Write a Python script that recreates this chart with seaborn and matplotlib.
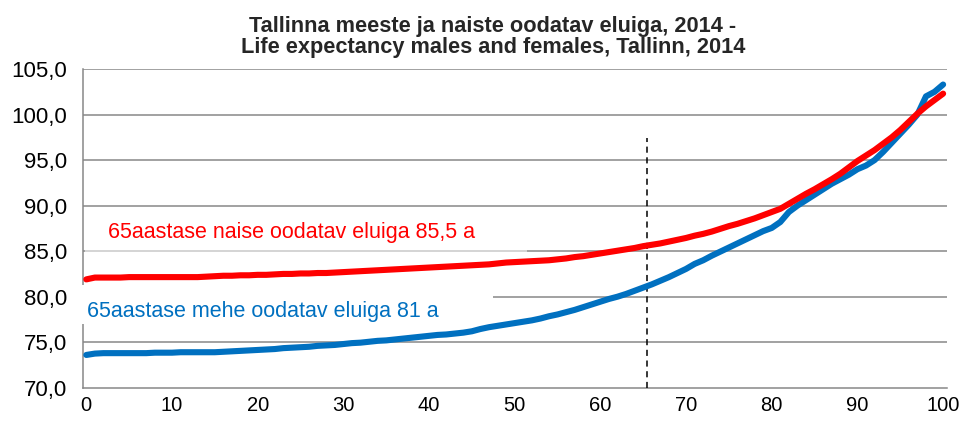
import matplotlib
matplotlib.use('Agg')
import matplotlib.pyplot as plt
from matplotlib.ticker import FixedLocator, FuncFormatter
from matplotlib.patches import Rectangle
import numpy as np
import pandas as pd
import seaborn as sns

# ages 0..100
ages = list(range(101))

# females (red)
females = [81.9, 82.1, 82.1, 82.1, 82.1, 82.15, 82.15, 82.15, 82.15, 82.15,
           82.15, 82.15, 82.15, 82.15, 82.2, 82.25, 82.3, 82.3, 82.35, 82.35,
           82.4, 82.4, 82.45, 82.5, 82.5, 82.55, 82.55, 82.6, 82.6, 82.65,
           82.7, 82.75, 82.8, 82.85, 82.9, 82.95, 83.0, 83.05, 83.1, 83.15,
           83.2, 83.25, 83.3, 83.35, 83.4, 83.45, 83.5, 83.55, 83.65, 83.75,
           83.8, 83.85, 83.9, 83.95, 84.0, 84.1, 84.2, 84.35, 84.45, 84.6,
           84.75, 84.9, 85.05, 85.2, 85.35, 85.55, 85.7, 85.85, 86.05, 86.25,
           86.45, 86.7, 86.9, 87.15, 87.45, 87.75, 88.0, 88.3, 88.6, 88.95,
           89.3, 89.65, 90.2, 90.75, 91.3, 91.8, 92.35, 92.9, 93.5, 94.2,
           94.9, 95.5, 96.1, 96.8, 97.5, 98.3, 99.2, 100.1, 100.9, 101.6,
           102.3]

# males (blue)
males = [73.6, 73.75, 73.8, 73.8, 73.8, 73.8, 73.8, 73.8, 73.85, 73.85,
         73.85, 73.9, 73.9, 73.9, 73.9, 73.9, 73.95, 74.0, 74.05, 74.1,
         74.15, 74.2, 74.25, 74.35, 74.4, 74.45, 74.5, 74.6, 74.65, 74.7,
         74.8, 74.9, 74.95, 75.05, 75.15, 75.2, 75.3, 75.4, 75.5, 75.6,
         75.7, 75.8, 75.85, 75.95, 76.05, 76.2, 76.45, 76.65, 76.8, 76.95,
         77.1, 77.25, 77.4, 77.6, 77.85, 78.05, 78.3, 78.55, 78.85, 79.15,
         79.45, 79.75, 80.0, 80.3, 80.65, 81.0, 81.35, 81.75, 82.15, 82.6,
         83.05, 83.6, 84.0, 84.5, 84.95, 85.4, 85.85, 86.3, 86.75, 87.2,
         87.55, 88.2, 89.3, 90.0, 90.6, 91.2, 91.8, 92.4, 92.9, 93.4,
         94.0, 94.4, 95.0, 95.9, 96.9, 97.9, 98.9, 100.0, 102.0, 102.5,
         103.3]

series_names = ['Mehed', 'Naised']
series_colors = ['#0070C0', '#FF0000']

title_lines = ['Tallinna meeste ja naiste oodatav eluiga, 2014 -',
               'Life expectancy males and females, Tallinn, 2014']
female_note = '65aastase naise oodatav eluiga 85,5 a'
male_note = '65aastase mehe oodatav eluiga 81 a'

age_mark = 65.4   # dashed marker (hand drawn in the original, sits a bit right of 65)
mark_top = 97.4

x_ticks = list(range(0, 101, 10))
y_ticks = [70, 75, 80, 85, 90, 95, 100, 105]


def main():
    sns.set_style('white')
    plt.rcParams['font.family'] = ['Liberation Sans', 'DejaVu Sans']

    df = pd.DataFrame({'age': ages * 2,
                       'value': males + females,
                       'sex': [series_names[0]] * len(ages) + [series_names[1]] * len(ages)})

    fig = plt.figure(figsize=(9.61, 4.21), dpi=100)
    ax = fig.add_axes([0.0864, 0.079, 0.899, 0.757])

    grid_c = '#878787'
    for v in y_ticks[1:]:
        ax.axhline(v, color=grid_c, lw=1.1, zorder=1)

    sns.lineplot(data=df, x='age', y='value', hue='sex', palette=series_colors,
                 hue_order=series_names, lw=4.4, legend=False, ax=ax, zorder=5)
    for ln in ax.get_lines():
        ln.set_solid_capstyle('round')

    ax.vlines(age_mark, 70, mark_top, colors='black', lw=1.1,
              linestyles=(0, (4, 3)), zorder=4)

    x_lo, x_hi = -0.38, 100.45
    ax.set_xlim(x_lo, x_hi)
    ax.set_ylim(70, 105)
    ax.set_xlabel('')
    ax.set_ylabel('')

    # text backdrops like the Excel text boxes
    ax.add_patch(Rectangle((-1.0, 77.0), 48.5, 4.3, facecolor='white', edgecolor='none',
                           zorder=3, clip_on=False))
    ax.add_patch(Rectangle((-0.2, 84.7), 51.6, 4.6, facecolor='white', edgecolor='none',
                           alpha=0.55, zorder=3))

    ax.text(2.5, 86.4, female_note, color=series_colors[1], fontsize=15.5,
            va='baseline', ha='left', zorder=6)
    ax.text(0.08, 77.8, male_note, color=series_colors[0], fontsize=15.5,
            va='baseline', ha='left', zorder=6)

    for s in ['top', 'right']:
        ax.spines[s].set_visible(False)
    for s in ['left', 'bottom']:
        ax.spines[s].set_color(grid_c)
        ax.spines[s].set_linewidth(1.1)

    ax.xaxis.set_major_locator(FixedLocator(x_ticks))
    ax.xaxis.set_minor_locator(FixedLocator(np.linspace(x_lo, x_hi, 118)))
    ax.yaxis.set_major_locator(FixedLocator(y_ticks))
    ax.yaxis.set_major_formatter(FuncFormatter(lambda v, p: f'{v:.1f}'.replace('.', ',')))

    ax.tick_params(axis='x', which='major', length=0, pad=6, labelsize=14.5)
    ax.tick_params(axis='x', which='minor', length=3.2, width=1.0, color=grid_c, direction='out')
    ax.tick_params(axis='y', which='major', length=4.5, width=1.1, color=grid_c, pad=7, labelsize=16)
    ax.tick_params(axis='both', labelcolor='black')

    fig.text(0.513, 1 - 31.7 / 421, title_lines[0], ha='center', va='baseline',
             fontsize=15.7, fontweight='bold')
    fig.text(0.513, 1 - 53.3 / 421, title_lines[1], ha='center', va='baseline',
             fontsize=15.7, fontweight='bold')

    fig.savefig('out.png', dpi=100)


if __name__ == '__main__':
    main()
